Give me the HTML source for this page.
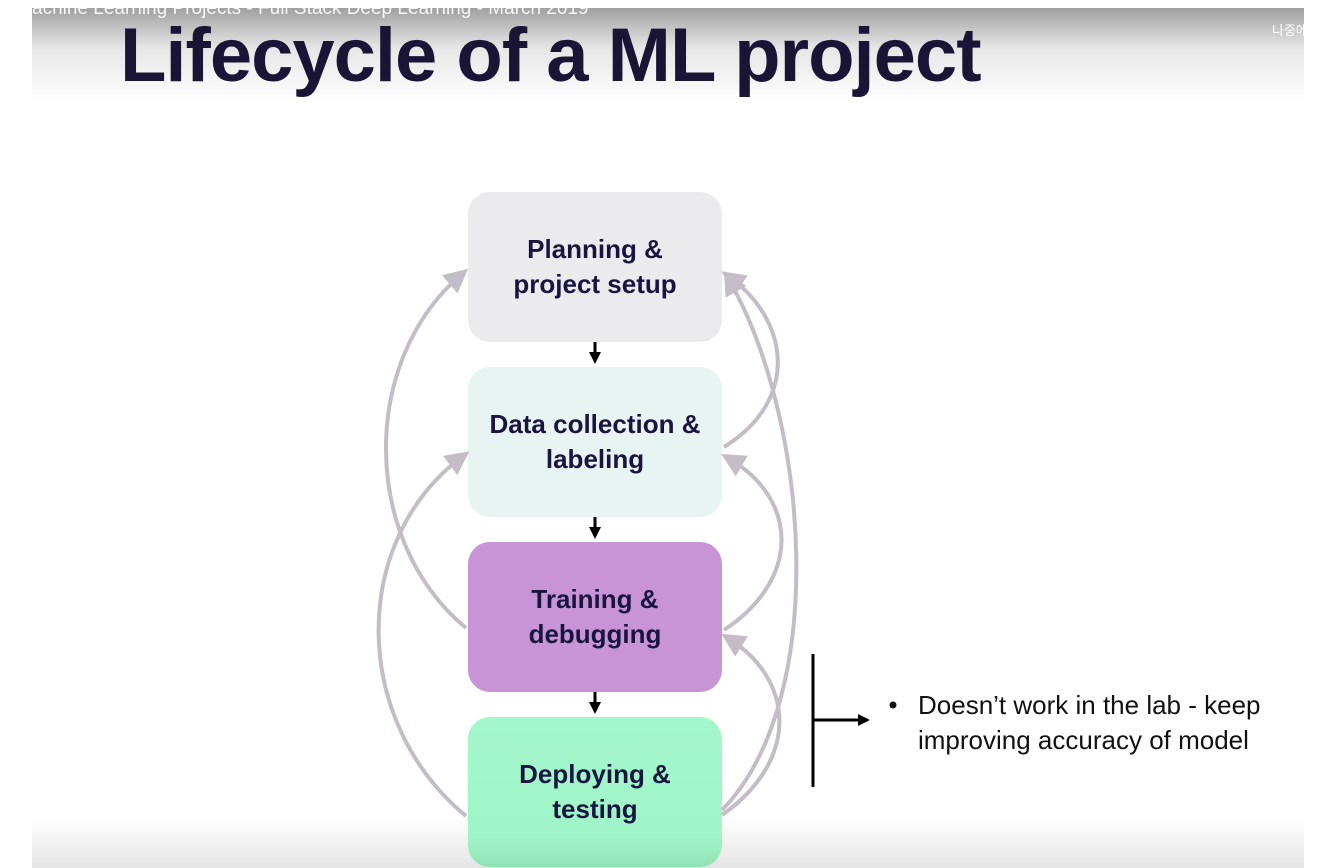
<!DOCTYPE html>
<html><head><style>
body{margin:0;width:1336px;height:868px;background:#fff;position:relative;overflow:hidden;font-family:"Liberation Sans",sans-serif}
.slide{position:absolute;left:32px;top:8px;width:1272px;height:860px;background:linear-gradient(#a0a0a0 0px,#e6e6e6 40px,#fff 95px,#fff 810px,#e4e4e4 860px)}
.yt{position:absolute;left:32px;top:-2px;color:#fff;font-size:19px;white-space:nowrap;opacity:.9}
.title{position:absolute;left:120px;top:12px;font-size:76px;font-weight:bold;color:#1a1535;letter-spacing:-1px}
.box{position:absolute;left:468px;width:254px;height:150px;border-radius:22px;display:flex;align-items:center;justify-content:center;text-align:center;font-weight:bold;font-size:26px;line-height:35px;color:#1a1540}
.txt{position:absolute;left:918px;top:688px;font-size:26px;line-height:35px;color:#111;white-space:nowrap}
</style></head><body>
<div class="slide"></div>
<div class="yt">achine Learning Projects - Full Stack Deep Learning - March 2019</div>
<div style="position:absolute;left:1272px;top:20px;color:#fff;font-size:13px;font-family:'Noto Sans CJK KR',sans-serif">나중에</div>
<div class="title">Lifecycle of a ML project</div>
<div class="box" style="top:192px;background:#ebebee">Planning &amp;<br>project setup</div>
<div class="box" style="top:367px;background:#e8f4f2">Data collection &amp;<br>labeling</div>
<div class="box" style="top:542px;background:#c994d6">Training &amp;<br>debugging</div>
<div class="box" style="top:717px;background:linear-gradient(#a2f7cb,#a0f5c8 80%,#90e2b4)">Deploying &amp;<br>testing</div>
<svg width="1336" height="868" style="position:absolute;left:0;top:0">
<defs>
<marker id="g" markerWidth="6" markerHeight="6" refX="4" refY="3" orient="auto" markerUnits="strokeWidth"><path d="M0,0L6,3L0,6z" fill="#c4bdc8"/></marker>
<marker id="k" markerWidth="4" markerHeight="4" refX="2" refY="2" orient="auto" markerUnits="strokeWidth"><path d="M0,0L4,2L0,4z" fill="#000"/></marker>
</defs>
<g fill="none" stroke="#c4bdc8" stroke-width="4">
<path d="M466,628 C360,540 360,360 462,274" marker-end="url(#g)"/>
<path d="M466,816 C350,720 350,540 463,456" marker-end="url(#g)"/>
<path d="M724,447 C800,400 790,320 728,276" marker-end="url(#g)"/>
<path d="M724,630 C800,580 800,500 728,458" marker-end="url(#g)"/>
<path d="M722,815 C800,760 795,680 728,638" marker-end="url(#g)"/>
<path d="M722,810 C830,700 810,420 728,278" marker-end="url(#g)"/>
</g>
<g stroke="#000" stroke-width="3">
<line x1="595" y1="342" x2="595" y2="358" marker-end="url(#k)"/>
<line x1="595" y1="517" x2="595" y2="533" marker-end="url(#k)"/>
<line x1="595" y1="692" x2="595" y2="708" marker-end="url(#k)"/>
<line x1="813" y1="654" x2="813" y2="787"/>
<line x1="813" y1="720" x2="864" y2="720" marker-end="url(#k)"/>
</g>
<circle cx="893" cy="705" r="3.5" fill="#111"/>
</svg>
<div class="txt">Doesn’t work in the lab - keep<br>improving accuracy of model</div>
</body></html>
